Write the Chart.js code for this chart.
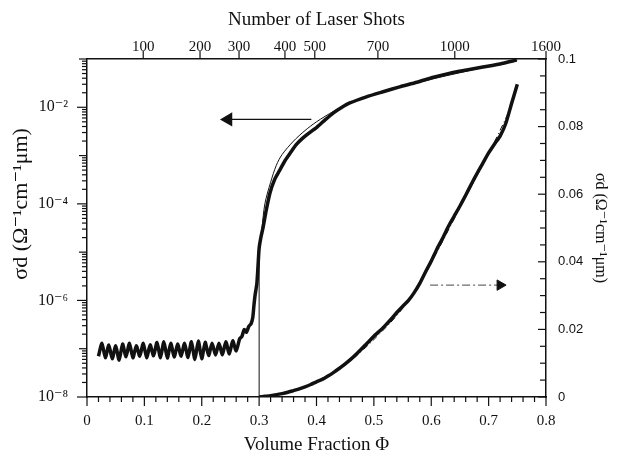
<!DOCTYPE html>
<html>
<head>
<meta charset="utf-8">
<title>Conductivity vs Volume Fraction</title>
<script src="https://cdn.jsdelivr.net/npm/chart.js@4/dist/chart.umd.min.js"></script>
<style>
    body { margin: 0; background: #fff; }
    #wrap { width: 626px; height: 461px; }
</style>
</head>
<body>
<div id="wrap"><canvas id="sigmaChart" width="626" height="461"></canvas></div>
<script>
// Left axis (log) - measured sigma*d vs volume fraction
const phiLog = [
    0.020, 0.026, 0.032, 0.038, 0.044, 0.050, 0.056, 0.062, 0.068, 0.074,
    0.080, 0.086, 0.092, 0.098, 0.104, 0.110, 0.116, 0.122, 0.128, 0.134,
    0.140, 0.146, 0.152, 0.158, 0.164, 0.170, 0.176, 0.182, 0.188, 0.194,
    0.200, 0.206, 0.212, 0.218, 0.224, 0.230, 0.236, 0.242, 0.248, 0.254,
    0.260, 0.266, 0.270, 0.274, 0.278, 0.282, 0.286, 0.289, 0.291, 0.293,
    0.296, 0.298, 0.300, 0.303, 0.307, 0.312, 0.319, 0.327, 0.336, 0.345,
    0.354, 0.365, 0.376, 0.388, 0.401, 0.415, 0.429, 0.443, 0.458, 0.487,
    0.516, 0.545, 0.575, 0.604, 0.633, 0.662, 0.690, 0.720, 0.749
];
const sigmaLog = [
    7.0e-8, 1.3e-7, 6.5e-8, 1.2e-7, 6.2e-8, 1.15e-7, 5.8e-8, 1.25e-7, 6.8e-8, 1.3e-7,
    6.5e-8, 1.15e-7, 7.0e-8, 1.3e-7, 6.5e-8, 1.2e-7, 7.2e-8, 1.35e-7, 6.5e-8, 1.4e-7,
    6.4e-8, 1.3e-7, 6.7e-8, 1.25e-7, 7.0e-8, 1.3e-7, 6.6e-8, 1.4e-7, 6.0e-8, 1.45e-7,
    6.2e-8, 1.35e-7, 7.2e-8, 1.3e-7, 7.4e-8, 1.3e-7, 7.5e-8, 1.4e-7, 7.8e-8, 1.45e-7,
    9.0e-8, 1.6e-7, 1.8e-7, 2.5e-7, 2.2e-7, 2.9e-7, 3.3e-7, 4.5e-7, 8.0e-7, 1.3e-6,
    2.2e-6, 5.0e-6, 1.2e-5, 2.0e-5, 3.3e-5, 7.0e-5, 1.7e-4, 3.2e-4, 5.0e-4, 7.8e-4,
    1.12e-3, 1.7e-3, 2.3e-3, 3.0e-3, 3.9e-3, 5.5e-3, 7.6e-3, 9.8e-3, 1.23e-2, 1.65e-2,
    2.1e-2, 2.65e-2, 3.3e-2, 4.2e-2, 5.1e-2, 5.9e-2, 6.8e-2, 7.9e-2, 9.5e-2
];
// thin fitted curve on the log axis
const phiLogFit = [0.305, 0.31, 0.32, 0.33, 0.34, 0.36, 0.38, 0.40, 0.43, 0.46, 0.50, 0.55, 0.60, 0.65, 0.70, 0.75];
const sigmaLogFit = [3.16e-5, 1.0e-4, 2.8e-4, 6.3e-4, 1.05e-3, 2.0e-3, 3.3e-3, 5.0e-3, 8.3e-3, 1.26e-2, 1.86e-2, 2.7e-2, 3.8e-2, 5.2e-2, 7.1e-2, 9.5e-2];
// percolation threshold marker
const phiC = 0.3;
const phiCRange = [1e-8, 1.2e-5];

// Right axis (linear) - measured sigma*d and fit
const phiLin = [
    0.30, 0.31, 0.32, 0.33, 0.34, 0.35, 0.36, 0.37, 0.38, 0.39,
    0.40, 0.41, 0.42, 0.43, 0.44, 0.45, 0.46, 0.47, 0.48, 0.49,
    0.50, 0.51, 0.52, 0.53, 0.54, 0.55, 0.56, 0.57, 0.58, 0.59,
    0.60, 0.61, 0.62, 0.63, 0.64, 0.65, 0.66, 0.67, 0.68, 0.69,
    0.70, 0.71, 0.72, 0.73, 0.74, 0.75
];
const sigmaLin = [
    0.0000, 0.0002, 0.0004, 0.0007, 0.0010, 0.0014, 0.0019, 0.0024, 0.0030, 0.0037,
    0.0045, 0.0052, 0.0062, 0.0073, 0.0085, 0.0098, 0.0112, 0.0128, 0.0145, 0.0162,
    0.0180, 0.0195, 0.0212, 0.0230, 0.0250, 0.0268, 0.0285, 0.0308, 0.0336, 0.0370,
    0.0402, 0.0438, 0.0470, 0.0505, 0.0535, 0.0565, 0.0597, 0.0630, 0.0662, 0.0692,
    0.0722, 0.0748, 0.0772, 0.0810, 0.0868, 0.0925
];
const phiLinFit = [0.30, 0.35, 0.40, 0.45, 0.50, 0.55, 0.60, 0.65, 0.70, 0.74];
const sigmaLinFit = [0.0, 0.0013, 0.0043, 0.0094, 0.0170, 0.0262, 0.0398, 0.0560, 0.0720, 0.0860];

// Arrows pointing at each curve's axis
const arrowLeftPhi = [0.391, 0.246];
const arrowLeftSigma = 5.6e-3;
const arrowRightPhi = [0.598, 0.72];
const arrowRightSigma = 0.0331;

// Axis ticks
const phiTicks = [0, 0.1, 0.2, 0.3, 0.4, 0.5, 0.6, 0.7, 0.8];
const logTicks = [1e-8, 1e-6, 1e-4, 1e-2];
const linTicks = [0, 0.02, 0.04, 0.06, 0.08, 0.1];
const shotPositions = [0.098, 0.197, 0.265, 0.345, 0.397, 0.507, 0.641, 0.8];
const shotLabels = ['100', '200', '300', '400', '500', '700', '1000', '1600'];

const SIGMA_TITLE = '\u03C3d (\u03A9\u207B\u00B9cm\u207B\u00B9\u03BCm)';
const SERIF = "'Liberation Serif', 'DejaVu Serif', serif";
const SANS = "'Liberation Sans', 'DejaVu Sans', sans-serif";
const INK = '#111';

function toPoints(xs, ys) {
    return xs.map((v, i) => ({ x: v, y: ys[i] }));
}

function supExp(n) {
    const map = { '-': '\u207B', '0': '\u2070', '1': '\u00B9', '2': '\u00B2', '3': '\u00B3',
        '4': '\u2074', '5': '\u2075', '6': '\u2076', '7': '\u2077', '8': '\u2078', '9': '\u2079' };
    return String(n).split('').map(c => map[c]).join('');
}

function fixTicks(values) {
    return scale => { scale.ticks = values.map(v => ({ value: v })); };
}

// Tick marks drawn by hand so majors and minors can differ in length
const tickMarks = {
    id: 'tickMarks',
    afterDraw(chart) {
        const { ctx } = chart;
        const { x, x2, y, y2 } = chart.scales;
        const mark = (x0, y0, x1, y1) => {
            ctx.beginPath();
            ctx.moveTo(x0, y0);
            ctx.lineTo(x1, y1);
            ctx.stroke();
        };
        ctx.save();
        ctx.strokeStyle = INK;
        ctx.lineWidth = 1.2;

        // bottom: every 0.02, labelled every 0.1
        for (let i = 0; i <= 40; i++) {
            const px = x.getPixelForValue(i * 0.02);
            mark(px, x.top, px, x.top + (i % 5 === 0 ? 9 : 5));
        }
        // top: laser shots
        shotPositions.forEach(v => {
            const px = x2.getPixelForValue(v);
            mark(px, x2.bottom, px, x2.bottom - 8);
        });
        // left: log decades with 2..9 minors
        for (let e = -8; e <= -1; e++) {
            for (let m = 1; m <= 9; m++) {
                const val = m * Math.pow(10, e);
                if (val > 0.1 + 1e-12) break;
                const py = y.getPixelForValue(val);
                const len = m === 1 ? (e % 2 === 0 ? 10 : 8) : 5;
                mark(y.right, py, y.right - len, py);
            }
        }
        // right: inward ticks every 0.005
        for (let i = 0; i <= 20; i++) {
            const py = y2.getPixelForValue(i * 0.005);
            mark(y2.left, py, y2.left - (i % 4 === 0 ? 8 : 6), py);
        }
        ctx.restore();
    }
};

// Left axis title sits a little above centre in the original, level with 10^-4
const leftTitle = {
    id: 'leftTitle',
    afterDraw(chart) {
        const { ctx } = chart;
        const y = chart.scales.y;
        ctx.save();
        ctx.translate(y.left + 21, y.getPixelForValue(1e-4));
        ctx.rotate(-Math.PI / 2);
        ctx.textAlign = 'center';
        ctx.textBaseline = 'middle';
        ctx.fillStyle = INK;
        ctx.font = '22px ' + SERIF;
        ctx.fillText(SIGMA_TITLE, 0, 0);
        ctx.restore();
    }
};

function initSigmaChart() {
    const ctx = document.getElementById('sigmaChart').getContext('2d');
    const border = { display: true, color: INK, width: 1.5 };
    const noGrid = { display: false, drawTicks: false };

    new Chart(ctx, {
        type: 'line',
        data: {
            datasets: [
                {
                    data: toPoints(phiLog, sigmaLog),
                    xAxisID: 'x', yAxisID: 'y',
                    borderColor: INK, borderWidth: 3.5,
                    borderJoinStyle: 'round',
                    pointRadius: 0, tension: 0.2
                },
                {
                    data: toPoints(phiLogFit, sigmaLogFit),
                    xAxisID: 'x', yAxisID: 'y',
                    borderColor: INK, borderWidth: 1,
                    pointRadius: 0, tension: 0.3
                },
                {
                    data: toPoints([phiC, phiC], phiCRange),
                    xAxisID: 'x', yAxisID: 'y',
                    borderColor: INK, borderWidth: 1,
                    pointRadius: 0
                },
                {
                    data: toPoints(phiLin, sigmaLin),
                    xAxisID: 'x', yAxisID: 'y2',
                    borderColor: INK, borderWidth: 3.5,
                    pointRadius: 0, tension: 0.2
                },
                {
                    data: toPoints(phiLinFit, sigmaLinFit),
                    xAxisID: 'x', yAxisID: 'y2',
                    borderColor: INK, borderWidth: 1,
                    borderDash: [6, 3, 1, 3],
                    pointRadius: 0, tension: 0.3
                },
                {
                    // left-pointing arrow -> log axis
                    data: toPoints(arrowLeftPhi, [arrowLeftSigma, arrowLeftSigma]),
                    xAxisID: 'x', yAxisID: 'y',
                    borderColor: INK, borderWidth: 1.2,
                    pointStyle: 'triangle', pointRotation: -90,
                    pointRadius: [0, 7], pointBackgroundColor: INK, pointBorderColor: INK
                },
                {
                    // right-pointing arrow -> linear axis
                    data: toPoints(arrowRightPhi, [arrowRightSigma, arrowRightSigma]),
                    xAxisID: 'x', yAxisID: 'y2',
                    borderColor: '#444', borderWidth: 1,
                    borderDash: [8, 3, 2, 3],
                    pointStyle: 'triangle', pointRotation: 90,
                    pointRadius: [0, 6], pointBackgroundColor: INK, pointBorderColor: INK
                }
            ]
        },
        options: {
            responsive: false,
            animation: false,
            layout: { padding: { left: 0, right: 12, top: 0, bottom: 0 } },
            plugins: {
                legend: { display: false },
                tooltip: { enabled: false }
            },
            scales: {
                x: {
                    type: 'linear', position: 'bottom',
                    min: 0, max: 0.8,
                    afterBuildTicks: fixTicks(phiTicks),
                    afterFit: s => { s.height = 64; },
                    grid: noGrid,
                    border: border,
                    ticks: {
                        autoSkip: false, maxRotation: 0, padding: 15,
                        color: INK, font: { family: SERIF, size: 15 },
                        callback: v => String(Number(v.toFixed(2)))
                    },
                    title: {
                        display: true, text: 'Volume Fraction \u03A6',
                        color: INK, font: { family: SERIF, size: 19 },
                        padding: { top: 0, bottom: 5 }
                    }
                },
                x2: {
                    type: 'linear', position: 'top',
                    min: 0, max: 0.8,
                    afterBuildTicks: fixTicks(shotPositions),
                    afterFit: s => { s.height = 59; },
                    grid: noGrid,
                    border: border,
                    ticks: {
                        autoSkip: false, maxRotation: 0, padding: 3,
                        color: INK, font: { family: SERIF, size: 15 },
                        callback: (v, i) => shotLabels[i]
                    },
                    title: {
                        display: true, text: 'Number of Laser Shots',
                        color: INK, font: { family: SERIF, size: 19 },
                        padding: { top: 9, bottom: 0 }
                    }
                },
                y: {
                    type: 'logarithmic', position: 'left',
                    min: 1e-8, max: 1e-1,
                    afterBuildTicks: fixTicks(logTicks),
                    afterFit: s => { s.width = 87; },
                    grid: noGrid,
                    border: border,
                    ticks: {
                        autoSkip: false, padding: 19,
                        color: INK, font: { family: SERIF, size: 16 },
                        callback: v => '10' + supExp(Math.round(Math.log10(v)))
                    },
                    title: { display: false }
                },
                y2: {
                    type: 'linear', position: 'right',
                    min: 0, max: 0.1,
                    afterBuildTicks: fixTicks(linTicks),
                    afterFit: s => { s.width = 68; },
                    grid: noGrid,
                    border: border,
                    ticks: {
                        autoSkip: false, padding: 12,
                        color: INK, font: { family: SANS, size: 13 },
                        callback: v => String(Number(v.toFixed(2)))
                    },
                    title: {
                        display: true, text: SIGMA_TITLE,
                        color: INK, font: { family: SERIF, size: 16 },
                        padding: { top: 4, bottom: 0 }
                    }
                }
            }
        },
        plugins: [tickMarks, leftTitle]
    });
}

initSigmaChart();
</script>
</body>
</html>
